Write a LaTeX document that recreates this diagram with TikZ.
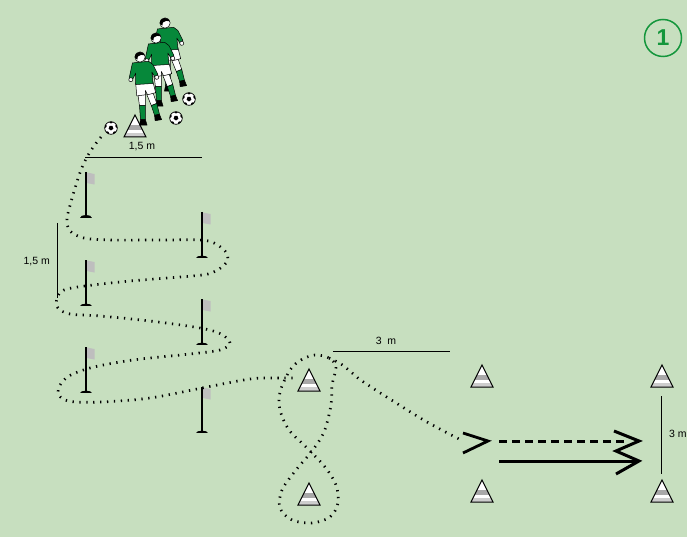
\documentclass[tikz,border=0pt]{standalone}
\usepackage{fontspec}
\setmainfont{Liberation Sans}
\definecolor{pitch}{RGB}{199,223,191}
\definecolor{kitgreen}{RGB}{6,136,58}
\definecolor{numgreen}{RGB}{20,150,60}
\definecolor{conegray}{RGB}{168,168,168}
\definecolor{conelight}{RGB}{205,205,205}
\definecolor{flaggray}{RGB}{190,190,190}
\begin{document}
\begin{tikzpicture}[x=1pt,y=-1pt,
  dimline/.style={black,line width=0.9pt},
  dotpath/.style={black,line width=2.7pt,dash pattern=on 1.3pt off 5.6pt},
  outl/.style={draw=black,line width=0.5pt,line join=round},
  dimtext/.style={font=\fontsize{10.5}{12}\selectfont,inner sep=0pt},
  cone/.pic={
    \begin{scope}
      \clip (0,0) -- (11,22) -- (-11,22) -- cycle;
      \fill[white] (-12,-1) rectangle (12,23);
      \fill[conegray] (-12,10) rectangle (12,15);
      \fill[conelight] (-12,18) rectangle (12,23);
    \end{scope}
    \draw[black,line width=1pt] (0,0) -- (11,22) -- (-11,22) -- cycle;
  },
  pole/.pic={
    \fill[flaggray] (0.5,0.5) -- (8.5,2) -- (8.5,12.5) -- (0.5,11) -- cycle;
    \draw[black,line width=1.5pt] (0,0) -- (0,45);
    \fill[black] (-6,46) .. controls (-6,42.5) and (6,42.5) .. (6,46) -- cycle;
  },
  ball/.pic={
    \fill[white] (0,0) circle (6.3);
    \begin{scope}
      \clip (0,0) circle (6.3);
      \fill[black] (90:2.5) -- (162:2.5) -- (234:2.5) -- (306:2.5) -- (18:2.5) -- cycle;
      \foreach \a in {54,126,198,270,342} \fill[black] (\a:6.6) circle (2);
    \end{scope}
    \draw[black,line width=0.7pt] (0,0) circle (6.3);
  },
  player/.pic={
    % trailing leg
    \filldraw[outl,fill=white] (6,34) -- (12,33) -- (15.5,43) -- (10.5,45) -- cycle;
    \filldraw[outl,fill=kitgreen] (10.5,45) -- (15.5,43) -- (18,53) -- (13.5,54) -- cycle;
    \filldraw[outl,fill=black] (13.5,54) -- (18,53) -- (20,58) -- (14,59) -- cycle;
    % standing leg
    \filldraw[outl,fill=white] (-2,34) -- (5,34) -- (5,45) -- (-0.5,45) -- cycle;
    \filldraw[outl,fill=kitgreen] (-0.5,45) -- (5,45) -- (5,58) -- (0.5,58) -- cycle;
    \filldraw[outl,fill=black] (0.5,58) -- (5,58) -- (6.5,63) -- (-0.5,63) -- cycle;
    % shorts
    \filldraw[outl,fill=white] (-4,24) -- (12,23) -- (14.5,33) -- (7,35) -- (5,31) -- (5,35) -- (-3,36) -- cycle;
    % shirt with sleeves
    \filldraw[outl,fill=kitgreen] (-7,5.5) -- (8,4) -- (12,7) -- (16.5,16) -- (14,19) -- (11,14)
      -- (12,24.5) -- (-4,25.5) -- (-4,15) -- (-7,21) -- (-10,19.5) -- cycle;
    % hands
    \filldraw[outl,fill=white] (15.5,18.8) circle (1.9);
    \filldraw[outl,fill=white] (-8.5,21) circle (1.9);
    % head and hair
    \filldraw[outl,fill=white] (0,0) circle (4.8);
    \fill[black] (-4.8,0.5) .. controls (-5.2,-5.7) and (3.6,-6.2) .. (4.6,-1.5) -- (1,-2) -- (-2,-0.5) -- (-2.5,2.5) -- cycle;
  }
]
\useasboundingbox (0,0) rectangle (687,537);
\clip (0,0) rectangle (687,537);
\fill[pitch] (0,0) rectangle (687,537);

% distance markers
\coordinate (dA1) at (85,157);  \coordinate (dA2) at (202,157);
\coordinate (dB1) at (57,223);  \coordinate (dB2) at (57,298);
\coordinate (dC1) at (333,351); \coordinate (dC2) at (450,351);
\coordinate (dD1) at (661,396); \coordinate (dD2) at (661,474);
\draw[dimline] (dA1) -- (dA2);
\draw[dimline] (dB1) -- (dB2);
\draw[dimline] (dC1) -- (dC2);
\draw[dimline] (dD1) -- (dD2);
\node[dimtext] (tA) at (142,147) {1,5 m};
\node[dimtext,anchor=east] (tB) at (50,262) {1,5 m};
\node[dimtext] (tC) at (386,341) {3~~m};
\node[dimtext,anchor=west] (tD) at (669,434) {3 m};

% slalom poles
\pic (p1) at (86,172) {pole};
\pic (p2) at (202,212) {pole};
\pic (p3) at (86,260) {pole};
\pic (p4) at (202,299) {pole};
\pic (p5) at (86,347) {pole};
\pic (p6) at (202,387) {pole};

% dribbling route through the poles
\draw[dotpath] plot[smooth,tension=0.55] coordinates {
  (101,137) (94,146) (87,157) (81,170) (76,185) (71,202) (67,219) (70,231) (84,238)
  (110,240) (160,240) (200,240) (214,243) (225,251) (228,259) (222,267) (208,274)
  (180,277) (130,281) (85,286) (64,290) (57,298) (58,308) (70,314) (100,316)
  (150,321) (200,328) (221,334) (230,343) (220,350) (190,354) (133,360) (90,368)
  (66,378) (58,392) (68,401) (100,402) (150,398) (207,387) (250,379) (275,378) (296,378)};

% figure of eight round the two cones
\draw[dotpath] plot[smooth cycle,tension=0.55] coordinates {
  (290,370) (301,360) (315,355) (329,358) (336,367) (332,385) (331,405) (324,432)
  (312,451) (296,470) (282,490) (280,508) (292,520) (312,523) (330,517) (338,503)
  (336,485) (325,467) (305,446) (289,430) (280,410) (280,392)};

% run towards the gate
\draw[dotpath] plot[smooth,tension=0.55] coordinates {
  (329,358) (341,364) (351,372) (362,381) (393,401) (427,422) (461,440)};
\coordinate (g1) at (463,433); \coordinate (g2) at (488,441); \coordinate (g3) at (463,453);
\draw[black,line width=2.8pt,line join=miter] (g1) -- (g2) -- (g3);

% cones
\pic (c0) at (135,115) {cone};
\pic (c1) at (309,369) {cone};
\pic (c2) at (309,483) {cone};
\pic (c3) at (482,365) {cone};
\pic (c4) at (482,480) {cone};
\pic (c5) at (662,365) {cone};
\pic (c6) at (662,480) {cone};

% waiting players
\pic[scale=1.08] (pl3) at (165,23) {player};
\pic[scale=1.08] (pl2) at (156,38) {player};
\pic[scale=1.08] (pl1) at (140,57) {player};

% balls
\pic (b1) at (111,128) {ball};
\pic (b2) at (189,99) {ball};
\pic (b3) at (176,118) {ball};

% pass and sprint arrows
\coordinate (s1) at (499,441); \coordinate (e1) at (624,441);
\coordinate (s2) at (499,461); \coordinate (e2) at (638,461);
\coordinate (h1) at (614,431); \coordinate (t1) at (639,441);
\coordinate (h2) at (616,451); \coordinate (t2) at (639,461);
\coordinate (h3) at (616,474);
\draw[black,line width=3pt,dash pattern=on 8pt off 5pt] (s1) -- (e1);
\draw[black,line width=3pt] (s2) -- (e2);
\draw[black,line width=3pt,line join=miter] (h1) -- (t1) -- (h2) -- (t2) -- (h3);

% exercise number
\node[draw=numgreen,line width=1.5pt,circle,minimum size=37pt,inner sep=0pt,
      text=numgreen,font=\fontsize{23}{23}\selectfont\bfseries] (num) at (663,38) {1};
\end{tikzpicture}
\end{document}
